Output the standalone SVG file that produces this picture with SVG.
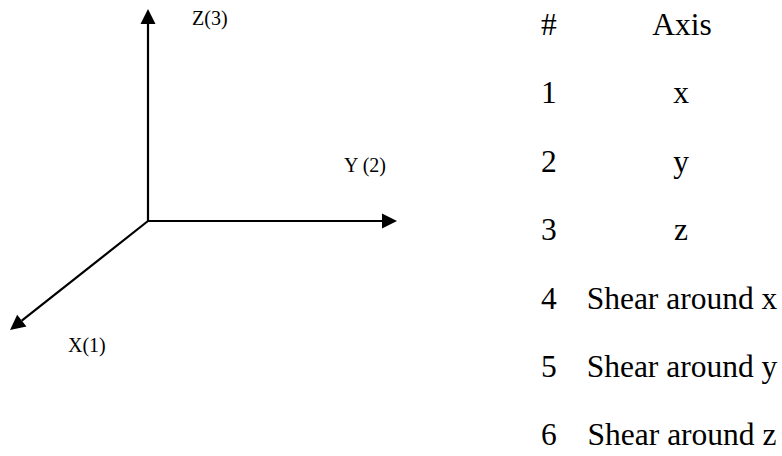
<svg xmlns="http://www.w3.org/2000/svg" width="782" height="456" viewBox="0 0 782 456">
  <style>
    .axis { stroke: #000; stroke-width: 2.2; fill: none; marker-end: url(#head); }
    .lbl { font-family: "Liberation Serif", "Times New Roman", serif; font-size: 20px; fill: #000; }
    .tbl { font-family: "Liberation Serif", "Times New Roman", serif; font-size: 31.5px; fill: #000; }
    .mid { text-anchor: middle; }
  </style>
  <defs>
    <marker id="head" markerUnits="userSpaceOnUse" markerWidth="16" markerHeight="16" refX="0" refY="7.5" orient="auto" overflow="visible">
      <path d="M0,0 L15,7.5 L0,15 Z" fill="#000"/>
    </marker>
  </defs>
  <rect width="782" height="456" fill="#fff"/>

  <!-- coordinate axes -->
  <g id="connectors">
    <line class="axis" x1="148" y1="222" x2="148" y2="24"/>
    <line class="axis" x1="147" y1="221" x2="382" y2="221"/>
    <line class="axis" x1="148" y1="221" x2="21.8" y2="320.7"/>
  </g>

  <g id="label-z"><text class="lbl" x="192" y="25">Z(3)</text></g>
  <g id="label-y"><text class="lbl" x="344" y="172">Y (2)</text></g>
  <g id="label-x"><text class="lbl" x="68" y="352">X(1)</text></g>

  <!-- index / axis table -->
  <g id="table">
    <text class="tbl" x="541" y="35">#</text>
    <text class="tbl mid" x="682" y="35">Axis</text>
    <text class="tbl" x="541" y="103">1</text>
    <text class="tbl mid" x="681" y="103">x</text>
    <text class="tbl" x="541" y="172">2</text>
    <text class="tbl mid" x="681" y="172">y</text>
    <text class="tbl" x="541" y="240">3</text>
    <text class="tbl mid" x="681" y="240">z</text>
    <text class="tbl" x="541" y="309">4</text>
    <text class="tbl mid" x="682" y="309">Shear around x</text>
    <text class="tbl" x="541" y="377">5</text>
    <text class="tbl mid" x="682" y="377">Shear around y</text>
    <text class="tbl" x="541" y="445">6</text>
    <text class="tbl mid" x="682" y="445">Shear around z</text>
  </g>
</svg>
